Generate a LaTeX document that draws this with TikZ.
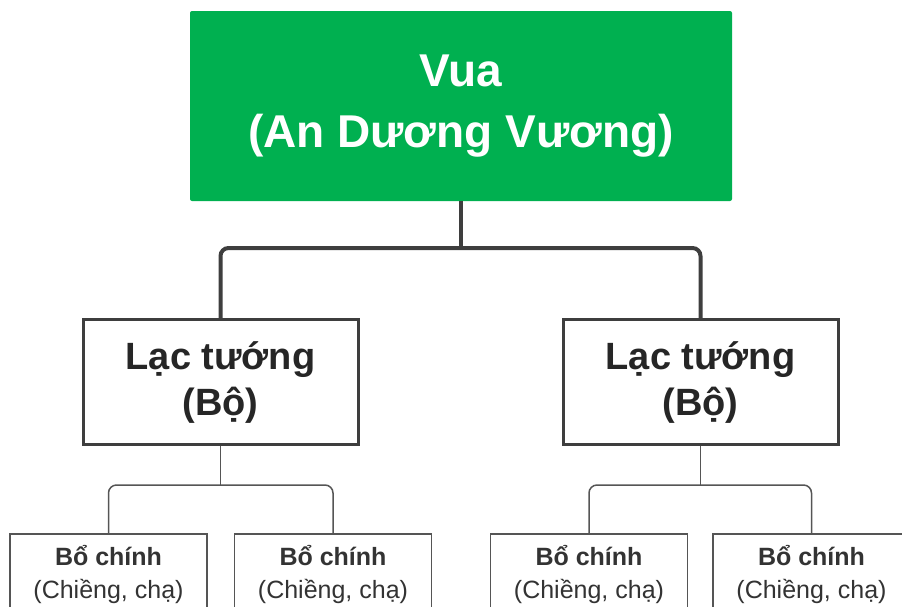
\documentclass[tikz,border=0pt]{standalone}
\usepackage{fontspec}
\setmainfont{Liberation Sans}
\definecolor{kinggreen}{RGB}{0,176,80}
\definecolor{linegray}{RGB}{62,62,62}
\definecolor{thingray}{RGB}{85,85,85}
\tikzset{
  king/.style={fill=kinggreen, text=white, align=center, inner sep=0pt,
    minimum width=542pt, minimum height=190pt, rounded corners=2pt,
    font=\fontsize{46}{61}\selectfont\bfseries},
  general/.style={draw=linegray, line width=3pt, fill=white, text=black!85,
    align=center, inner sep=0pt, minimum width=275pt, minimum height=125pt,
    font=\fontsize{38}{46}\selectfont\bfseries},
  chief/.style={draw=thingray, line width=1.5pt, fill=white, text=black!80,
    align=center, inner sep=0pt, minimum width=197pt, minimum height=80pt,
    font=\fontsize{25}{33}\selectfont},
  biglink/.style={draw=linegray, line width=4pt, rounded corners=8pt},
  smalllink/.style={draw=thingray, line width=1.5pt, rounded corners=8pt}
}
\begin{document}
\begin{tikzpicture}[x=1pt,y=-1pt]
    \useasboundingbox (0,0) rectangle (902,606);
    \clip (0,0) rectangle (902,606);
    \node[king] (vua) at (461,106) {Vua\\(An Dương Vương)};
    \node[general] (lt1) at (220.5,382) {Lạc tướng\\(Bộ)};
    \node[general] (lt2) at (700.5,382) {Lạc tướng\\(Bộ)};
    \node[chief] (bc1) at (108.5,574) {\textbf{Bổ chính}\\(Chiềng, chạ)};
    \node[chief] (bc2) at (333,574) {\textbf{Bổ chính}\\(Chiềng, chạ)};
    \node[chief] (bc3) at (589,574) {\textbf{Bổ chính}\\(Chiềng, chạ)};
    \node[chief] (bc4) at (811.5,574) {\textbf{Bổ chính}\\(Chiềng, chạ)};
    \coordinate (fork) at (461,248);
    \coordinate (fork1) at (220.5,485);
    \coordinate (fork2) at (700.5,485);
    \draw [biglink] (vua) -- (fork);
    \draw [biglink] (lt1) |- (fork) -| (lt2);
    \draw [smalllink] (lt1) -- (fork1);
    \draw [smalllink] (bc1) |- (fork1) -| (bc2);
    \draw [smalllink] (lt2) -- (fork2);
    \draw [smalllink] (bc3) |- (fork2) -| (bc4);
  \end{tikzpicture}
\end{document}
